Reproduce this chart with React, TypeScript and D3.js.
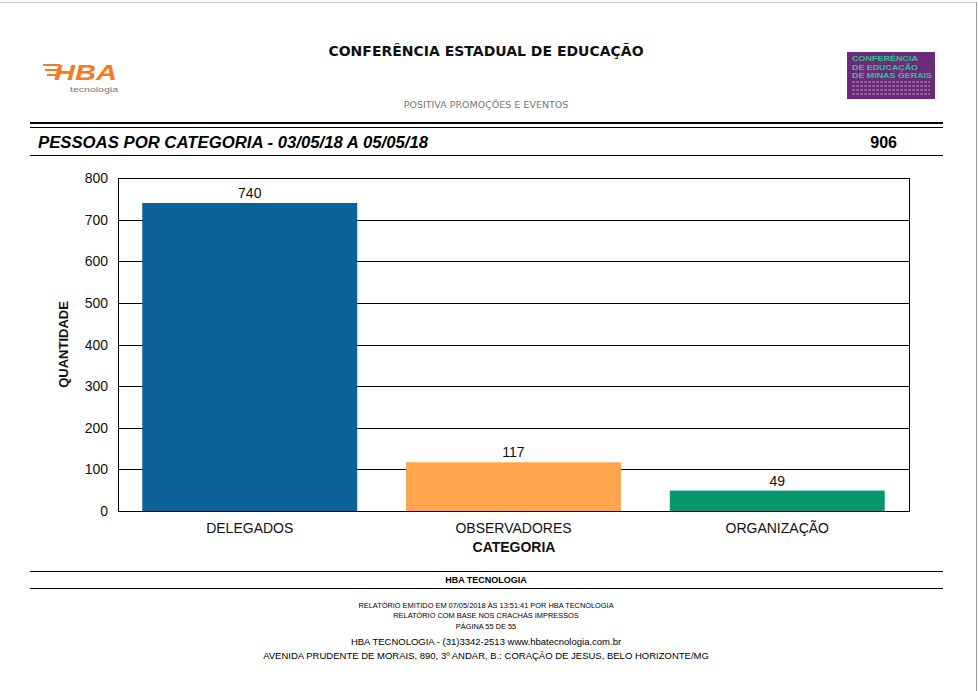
import React, { useEffect, useRef } from 'react';
import * as d3 from 'd3';

const categories = ['DELEGADOS', 'OBSERVADORES', 'ORGANIZAÇÃO'];
const values = [740, 117, 49];
const barColors = ['#0A6299', '#FFA54F', '#06976F'];
const yTicks = [0, 100, 200, 300, 400, 500, 600, 700, 800];
const total = 906;

const footerSmall = [
  'RELATÓRIO EMITIDO EM 07/05/2018 ÀS 13:51:41 POR HBA TECNOLOGIA',
  'RELATÓRIO COM BASE NOS CRACHÁS IMPRESSOS',
  'PÁGINA 55 DE 55',
];
const footerBig = [
  'HBA TECNOLOGIA - (31)3342-2513 www.hbatecnologia.com.br',
  'AVENIDA PRUDENTE DE MORAIS, 890, 3º ANDAR, B.: CORAÇÃO DE JESUS, BELO HORIZONTE/MG',
];
const confLogoLines = ['CONFERÊNCIA', 'DE EDUCAÇÃO', 'DE MINAS GERAIS'];

const W = 978;
const H = 691;
const plot = { left: 118, right: 909, top: 178, bottom: 511 };
const sans = 'Liberation Sans, Arial, sans-serif';
const tahoma = 'DejaVu Sans, Verdana, sans-serif';

const Report: React.FC = () => {
  const svgRef = useRef<SVGSVGElement>(null);

  useEffect(() => {
    if (!svgRef.current) return;
    const svg = d3.select(svgRef.current);
    svg.selectAll('*').remove();

    svg.append('rect').attr('width', W).attr('height', H).attr('fill', '#fff');

    // page frame
    svg.append('line').attr('x1', 0).attr('x2', 976).attr('y1', 2.5).attr('y2', 2.5)
      .attr('stroke', '#c8c8c8').attr('stroke-width', 1);
    svg.append('line').attr('x1', 976.5).attr('x2', 976.5).attr('y1', 2).attr('y2', H)
      .attr('stroke', '#9a9a9a').attr('stroke-width', 1);

    // header
    svg.append('text').attr('x', 486).attr('y', 56).attr('text-anchor', 'middle')
      .attr('font-family', tahoma).attr('font-weight', 'bold').attr('font-size', 14)
      .attr('fill', '#111').text('CONFERÊNCIA ESTADUAL DE EDUCAÇÃO');
    svg.append('text').attr('x', 486).attr('y', 108).attr('text-anchor', 'middle')
      .attr('font-family', tahoma).attr('font-size', 9.5)
      .attr('fill', '#777').text('POSITIVA PROMOÇÕES E EVENTOS');

    // HBA logo
    const logo = svg.append('g');
    [65, 70, 75].forEach((y, i) => {
      logo.append('line').attr('x1', 43 + i * 2).attr('x2', 60).attr('y1', y).attr('y2', y)
        .attr('stroke', '#F47B20').attr('stroke-width', 2);
    });
    logo.append('text').attr('x', 54).attr('y', 80).attr('font-family', sans)
      .attr('font-weight', 'bold').attr('font-style', 'italic').attr('font-size', 22)
      .attr('fill', '#F47B20').attr('textLength', 63).attr('lengthAdjust', 'spacingAndGlyphs')
      .text('HBA');
    logo.append('text').attr('x', 70).attr('y', 91.5).attr('font-family', sans)
      .attr('font-size', 8).attr('fill', '#777').attr('textLength', 48)
      .attr('lengthAdjust', 'spacingAndGlyphs').text('tecnologia');

    // conference logo
    const cl = svg.append('g');
    cl.append('rect').attr('x', 847).attr('y', 52).attr('width', 88).attr('height', 47).attr('fill', '#6C2A7B');
    confLogoLines.forEach((t, i) => {
      cl.append('text').attr('x', 852).attr('y', 61 + i * 8.7).attr('font-family', sans)
        .attr('font-weight', 'bold').attr('font-size', 7.4).attr('fill', '#2FC48E')
        .attr('textLength', i === 2 ? 80 : 66).attr('lengthAdjust', 'spacingAndGlyphs').text(t);
    });
    [82, 86, 90, 94].forEach((y) => {
      cl.append('line').attr('x1', 852).attr('x2', 930).attr('y1', y).attr('y2', y)
        .attr('stroke', '#b58cc0').attr('stroke-width', 1).attr('stroke-dasharray', '3,1');
    });

    // title band
    svg.append('line').attr('x1', 30).attr('x2', 943).attr('y1', 123).attr('y2', 123)
      .attr('stroke', '#000').attr('stroke-width', 2);
    svg.append('line').attr('x1', 30).attr('x2', 943).attr('y1', 127.5).attr('y2', 127.5)
      .attr('stroke', '#000').attr('stroke-width', 1);
    svg.append('text').attr('x', 38).attr('y', 148).attr('font-family', sans)
      .attr('font-weight', 'bold').attr('font-style', 'italic').attr('font-size', 16)
      .attr('textLength', 390).attr('lengthAdjust', 'spacingAndGlyphs')
      .text('PESSOAS POR CATEGORIA - 03/05/18 A 05/05/18');
    svg.append('text').attr('x', 897).attr('y', 148).attr('text-anchor', 'end')
      .attr('font-family', sans).attr('font-weight', 'bold').attr('font-size', 16)
      .text(String(total));
    svg.append('line').attr('x1', 30).attr('x2', 943).attr('y1', 155.5).attr('y2', 155.5)
      .attr('stroke', '#000').attr('stroke-width', 1);

    // chart
    const x = d3.scaleBand<string>().domain(categories).range([plot.left, plot.right])
      .paddingInner(0.185).paddingOuter(0.092);
    const y = d3.scaleLinear().domain([0, 800]).range([plot.bottom, plot.top]);

    const grid = svg.append('g');
    yTicks.forEach((t) => {
      grid.append('line').attr('x1', plot.left).attr('x2', plot.right)
        .attr('y1', Math.round(y(t)) + 0.5).attr('y2', Math.round(y(t)) + 0.5)
        .attr('stroke', '#000').attr('stroke-width', 1);
      grid.append('text').attr('x', 108).attr('y', y(t) + 5).attr('text-anchor', 'end')
        .attr('font-family', sans).attr('font-size', 14).attr('fill', '#111').text(t);
    });

    svg.append('g').selectAll('rect').data(values).enter().append('rect')
      .attr('x', (_, i) => x(categories[i])!)
      .attr('width', x.bandwidth())
      .attr('y', (d) => y(d))
      .attr('height', (d) => plot.bottom - y(d))
      .attr('fill', (_, i) => barColors[i]);

    svg.append('g').selectAll('text').data(values).enter().append('text')
      .attr('x', (_, i) => x(categories[i])! + x.bandwidth() / 2)
      .attr('y', (d) => y(d) - 5)
      .attr('text-anchor', 'middle').attr('font-family', sans).attr('font-size', 14)
      .attr('fill', '#111').text((d) => d);

    // frame
    svg.append('rect').attr('x', plot.left + 0.5).attr('y', plot.top + 0.5)
      .attr('width', plot.right - plot.left).attr('height', plot.bottom - plot.top)
      .attr('fill', 'none').attr('stroke', '#000').attr('stroke-width', 1);

    categories.forEach((c) => {
      svg.append('text').attr('x', x(c)! + x.bandwidth() / 2).attr('y', 533)
        .attr('text-anchor', 'middle').attr('font-family', sans).attr('font-size', 14)
        .attr('fill', '#111').text(c);
    });
    svg.append('text').attr('x', 514).attr('y', 552).attr('text-anchor', 'middle')
      .attr('font-family', sans).attr('font-weight', 'bold').attr('font-size', 14)
      .attr('fill', '#111').text('CATEGORIA');
    svg.append('text').attr('transform', `translate(68,${(plot.top + plot.bottom) / 2}) rotate(-90)`)
      .attr('text-anchor', 'middle').attr('font-family', sans).attr('font-weight', 'bold')
      .attr('font-size', 13).attr('fill', '#111').text('QUANTIDADE');

    // footer
    svg.append('line').attr('x1', 30).attr('x2', 943).attr('y1', 571.5).attr('y2', 571.5)
      .attr('stroke', '#000').attr('stroke-width', 1);
    svg.append('text').attr('x', 486).attr('y', 583).attr('text-anchor', 'middle')
      .attr('font-family', sans).attr('font-weight', 'bold').attr('font-size', 9)
      .text('HBA TECNOLOGIA');
    svg.append('line').attr('x1', 30).attr('x2', 943).attr('y1', 588.5).attr('y2', 588.5)
      .attr('stroke', '#000').attr('stroke-width', 1);
    footerSmall.forEach((t, i) => {
      svg.append('text').attr('x', 486).attr('y', 607.5 + i * 10.7).attr('text-anchor', 'middle')
        .attr('font-family', sans).attr('font-size', 7.4).text(t);
    });
    footerBig.forEach((t, i) => {
      svg.append('text').attr('x', 486).attr('y', 645 + i * 14).attr('text-anchor', 'middle')
        .attr('font-family', sans).attr('font-size', 9.5).text(t);
    });
  }, []);

  return <svg ref={svgRef} width={W} height={H} style={{ position: 'absolute', left: 0, top: 0 }} />;
};

export default function App() {
  return <Report />;
}
